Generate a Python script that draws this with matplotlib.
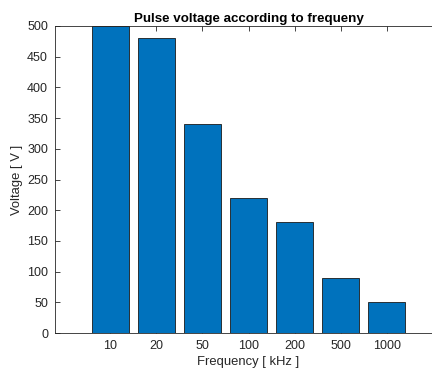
import numpy as np
import matplotlib
matplotlib.use("Agg")
from matplotlib import pyplot as plt

freq_labels = ["10", "20", "50", "100", "200", "500", "1000"]
voltage = [500, 480, 340, 220, 180, 90, 50]

plt.rcParams['font.family'] = ['Liberation Sans', 'DejaVu Sans']

fig = plt.figure(figsize=(4.32, 3.71), dpi=100)
ax = fig.add_axes([55/432, 38/371, 387/432, 307/371])

x = np.arange(1, len(voltage) + 1)
ax.bar(x, voltage, width=0.8, color="#0072BD", edgecolor="#1a1a1a", linewidth=0.6, zorder=2)

ax.set_xlim(-0.2, 8.2)
ax.set_ylim(0, 500)
ax.set_xticks(x)
ax.set_xticklabels(freq_labels)
ax.set_yticks(np.arange(0, 501, 50))

c = "#262626"
for s in ax.spines.values():
    s.set_color(c)
    s.set_linewidth(0.6)
ax.tick_params(direction="in", top=True, right=True, length=3.5, width=0.6,
               colors=c, labelsize=9, pad=5)
ax.set_xlabel("Frequency [ kHz ]", fontsize=9.4, color=c, labelpad=3)
ax.set_ylabel("Voltage [ V ]", fontsize=9.4, color=c, labelpad=3)
ax.set_title("Pulse voltage according to frequeny", fontsize=9.6, fontweight="bold",
             color="black", pad=3)

fig.savefig("out.png", dpi=100)
